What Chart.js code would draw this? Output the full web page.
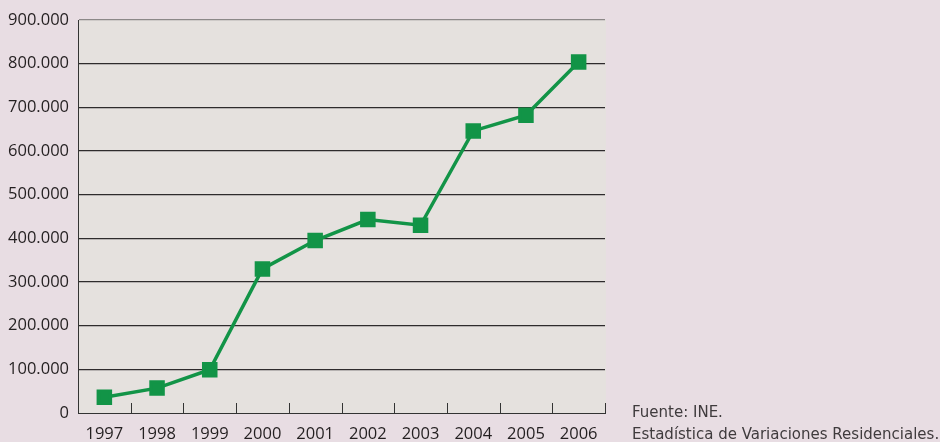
<!DOCTYPE html>
<html lang="es">
<head>
<meta charset="UTF-8">
<title>Variaciones residenciales 1997-2006</title>
<style>
  *{box-sizing:border-box;margin:0;padding:0}
  body{background:#e8dde3;width:940px;height:442px;overflow:hidden;font-family:"Open Sans",Arial,sans-serif}
  .wrap{position:absolute;left:0;top:0;width:940px;height:442px}
  .source{position:absolute;left:632px;top:401px;font-size:15px;line-height:22px;color:#3f3b3d;font-family:"DejaVu Sans",Arial,sans-serif;white-space:nowrap}
</style>
</head>
<body>
<div class="wrap"><canvas id="chart" width="940" height="442"></canvas></div>
<div class="source">Fuente: INE.<br>Estadística de Variaciones Residenciales.</div>

<script src="https://cdn.jsdelivr.net/npm/chart.js@4.4.0"></script>
<script>
/* Data */
const years = ["1997","1998","1999","2000","2001","2002","2003","2004","2005","2006"];
const values = [36000,57000,99000,330000,395000,443000,430000,646000,682000,804000];
const yTicks = [0,100000,200000,300000,400000,500000,600000,700000,800000,900000];

const fmt = v => v === 0 ? '0' : v.toLocaleString('de-DE');
const tickFont = {family:'"Open Sans", Arial, sans-serif', size:16.5};

/* plot area fill + inside tick marks on x axis */
const plotBits = {
  id:'plotBits',
  beforeDraw(chart){
    const {ctx, chartArea:a} = chart;
    ctx.save();
    ctx.fillStyle = '#e5e1de';
    ctx.fillRect(a.left, a.top, a.right - a.left + 1, a.bottom - a.top);
    ctx.restore();
  },
  afterDraw(chart){
    const {ctx, chartArea:a, scales:{x}} = chart;
    ctx.save();
    ctx.strokeStyle = '#333';
    ctx.lineWidth = 1;
    for (let i = 0; i <= years.length; i++){
      let px;
      if (i === 0) px = a.left;
      else if (i === years.length) px = a.right;
      else px = (x.getPixelForValue(i - 1) + x.getPixelForValue(i)) / 2;
      px = Math.round(px) + 0.5;
      ctx.beginPath();
      ctx.moveTo(px, a.bottom);
      ctx.lineTo(px, a.bottom - 10);
      ctx.stroke();
    }
    ctx.restore();
  }
};

new Chart(document.getElementById('chart'), {
  type:'line',
  data:{
    labels:years,
    datasets:[{
      data:values,
      borderColor:'#129447',
      backgroundColor:'#129447',
      borderWidth:3.5,
      pointStyle:'rect',
      pointRadius:8.5,
      pointHoverRadius:8.5,
      tension:0,
      fill:false
    }]
  },
  options:{
    responsive:false,
    animation:false,
    layout:{padding:{top:20,right:335,left:0,bottom:0}},
    plugins:{legend:{display:false},tooltip:{enabled:false}},
    scales:{
      x:{
        offset:true,
        grid:{display:false},
        border:{display:true,color:'#333',width:1},
        ticks:{color:'#231f20',font:tickFont,padding:3,maxRotation:0},
        afterFit(s){ s.height = 29; }
      },
      y:{
        min:0,max:900000,
        afterBuildTicks(s){ s.ticks = yTicks.map(v => ({value:v})); },
        grid:{
          drawTicks:false,
          lineWidth:1.2,
          color:c => c.tick.value === 0 ? 'rgba(0,0,0,0)' : (c.tick.value === 900000 ? '#8c8888' : '#2e2b2c')
        },
        border:{display:true,color:'#333',width:1},
        ticks:{color:'#231f20',font:tickFont,padding:9,callback:v => fmt(v)},
        afterFit(s){ s.width = 78; }
      }
    }
  },
  plugins:[plotBits]
});
</script>
</body>
</html>
